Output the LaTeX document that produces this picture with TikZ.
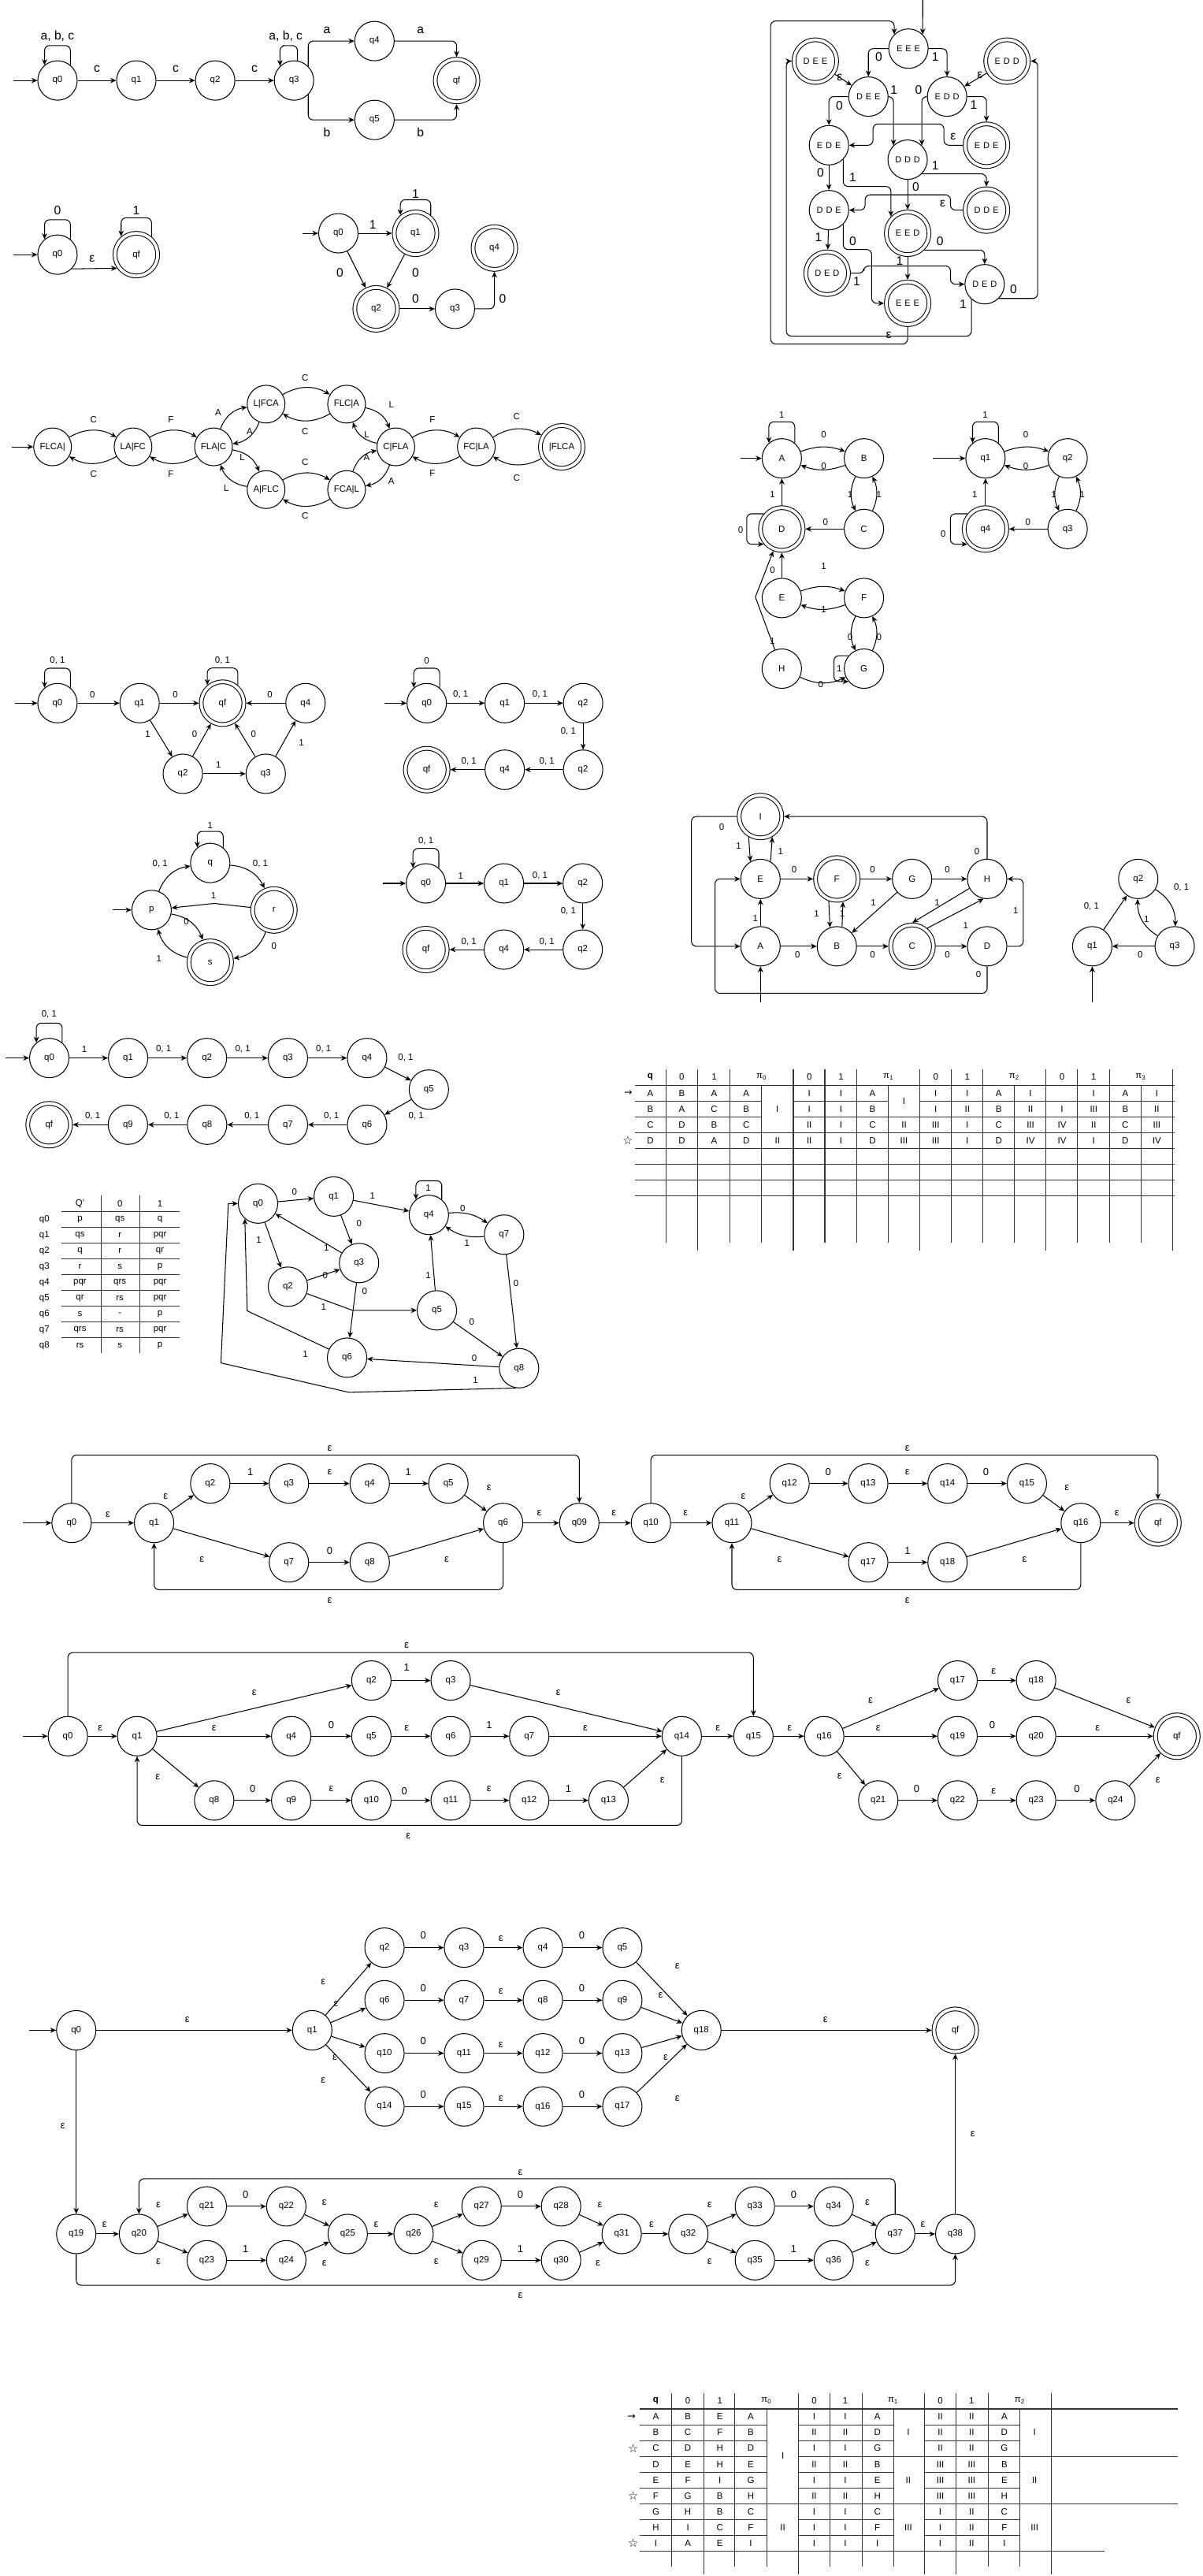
\documentclass[tikz,border=0pt]{standalone}
\usepackage{fontspec}
\setmainfont{Liberation Sans}
\newfontfamily\symf{DejaVu Sans}
\usetikzlibrary{arrows.meta,calc}
\tikzset{
 stt/.style={circle,draw,line width=0.5pt,minimum size=24pt,inner sep=0pt,font=\fontsize{5.5}{6}\selectfont},
 sts/.style={stt,minimum size=23pt},
 acs/.style={stt,double,double distance=1.8pt,minimum size=26pt,outer sep=1.4pt},
 spc/.style={font=\fontsize{5.3}{6}\selectfont\addfontfeature{LetterSpace=35}},
 arr/.style={line width=0.5pt,-{Stealth[length=3.6pt,width=3.2pt]}},
 lbl/.style={inner sep=0pt,font=\fontsize{7.5}{8}\selectfont},
 lbs/.style={inner sep=0pt,font=\fontsize{5.5}{6}\selectfont},
 lbm/.style={inner sep=0pt,font=\fontsize{6.2}{7}\selectfont},
 tln/.style={line width=0.5pt,draw=black!80},
 rcn/.style={rounded corners=3pt},
}
\newcommand\loopU[2]{\draw[arr,rcn] (#1.50) |- ($(#1.north)+(0,-#2)$) -| (#1.130);}
\newcommand\loopL[2]{\draw[arr,rcn] (#1.140) -| ($(#1.west)+(-#2,0)$) |- (#1.220);}
\newcommand\btrow[3]{\foreach \tx [count=\i] in {#3} {\pgfmathsetmacro\xx{{399.3,418.8,438.3,457.1,495.7,514.7,534.2,572.5,591.6,611.5}[\i-1]}\node[lbs] (#1\i) at (\xx,#2) {\tx};}}
\begin{document}
\begin{tikzpicture}[x=1pt,y=-1pt]
\fill[white] (0,0) rectangle (732,1568);
\useasboundingbox (0,0) rectangle (732,1568);
% ================= D1
\node[stt] (d1q0) at (35,49) {q0};
\node[stt] (d1q1) at (83,49) {q1};
\node[stt] (d1q2) at (131,49) {q2};
\node[stt] (d1q3) at (179,49) {q3};
\node[stt] (d1q4) at (228,25) {q4};
\node[stt] (d1q5) at (228,73) {q5};
\node[acs] (d1qf) at (278,49) {qf};
\coordinate (d1in) at (8,49);
\draw[arr] (d1in) -- (d1q0);
\loopU{d1q0}{9}
\draw[arr] (d1q0) -- (d1q1);
\draw[arr] (d1q1) -- (d1q2);
\draw[arr] (d1q2) -- (d1q3);
\draw[arr,rcn] (d1q3.80) |- ($(d1q3.north)+(-4,-9)$) -| (d1q3.134);
\draw[arr,rcn] (d1q3.45) |- (d1q4.west);
\draw[arr,rcn] (d1q4.east) -| (d1qf.north);
\draw[arr,rcn] (d1q3.-45) |- (d1q5.west);
\draw[arr,rcn] (d1q5.east) -| (d1qf.south);
\node[lbl] (d1l1) at (35,22) {a, b, c};
\node[lbl] (d1l2) at (59,42) {c};
\node[lbl] (d1l3) at (107,42) {c};
\node[lbl] (d1l4) at (155,42) {c};
\node[lbl] (d1l5) at (174,22) {a, b, c};
\node[lbl] (d1l6) at (199,18.4) {a};
\node[lbl] (d1l7) at (256,18.4) {a};
\node[lbl] (d1l8) at (199,80.7) {b};
\node[lbl] (d1l9) at (256,80.7) {b};
% ================= D2
\node[stt] (d2q0) at (35,155) {q0};
\node[acs] (d2qf) at (83,155) {qf};
\coordinate (d2in) at (8,155);
\draw[arr] (d2in) -- (d2q0);
\loopU{d2q0}{9}
\loopU{d2qf}{8}
\draw[arr] (d2q0.-45) -- (d2qf.215);
\node[lbl] (d2l1) at (35,128) {0};
\node[lbl] (d2l2) at (83,128) {1};
\node[lbl] (d2l3) at (56,157.5) {ε};
% ================= D3
\node[stt] (d3q0) at (206,142) {q0};
\node[acs] (d3q1) at (253,142) {q1};
\node[acs] (d3q2) at (229,188) {q2};
\node[stt] (d3q3) at (277,188) {q3};
\node[acs] (d3q4) at (301,151) {q4};
\coordinate (d3in) at (184,142);
\draw[arr] (d3in) -- (d3q0);
\draw[arr] (d3q0) -- (d3q1);
\loopU{d3q1}{6}
\draw[arr] (d3q0) -- (d3q2);
\draw[arr] (d3q1) -- (d3q2);
\draw[arr] (d3q2) -- (d3q3);
\draw[arr,rcn] (d3q3.east) -| (d3q4.south);
\node[lbl] (d3l1) at (227,137) {1};
\node[lbl] (d3l2) at (253,118) {1};
\node[lbl] (d3l3) at (207,166) {0};
\node[lbl] (d3l4) at (253,166) {0};
\node[lbl] (d3l5) at (253,182) {0};
\node[lbl] (d3l6) at (306,182) {0};
% ================= D4
\node[stt,spc] (d4a) at (553.1,29.6) {EEE};
\node[acs,spc] (d4b) at (496.4,37.2) {DEE};
\node[acs,spc] (d4c) at (613.1,37.2) {EDD};
\node[stt,spc] (d4d) at (528.7,58.8) {DEE};
\node[stt,spc] (d4e) at (576.6,58.8) {EDD};
\node[stt,spc] (d4f) at (504.7,88.4) {EDE};
\node[stt,spc] (d4g) at (552.6,97.2) {DDD};
\node[acs,spc] (d4h) at (600.6,88.4) {EDE};
\node[stt,spc] (d4i) at (504.7,127.9) {DDE};
\node[acs,spc] (d4j) at (552.6,142) {EED};
\node[acs,spc] (d4k) at (600.6,127.9) {DDE};
\node[acs,spc] (d4l) at (503.6,166.3) {DED};
\node[acs,spc] (d4m) at (552.6,184.6) {EEE};
\node[stt,spc] (d4n) at (599.5,173) {DED};
\coordinate (d4in) at (561.8,0);
\draw[arr] (d4in) -- (d4a.north east);
\draw[arr,rcn] (d4a.west) -| (d4d.north);
\draw[arr,rcn] (d4a.east) -| (d4e.north);
\draw[arr] (d4b) -- (d4d);
\draw[arr] (d4c) -- (d4e);
\draw[arr,rcn] (d4d.west) -| (d4f.north);
\draw[arr,rcn] (d4d.east) -| (d4g.north west);
\draw[arr,rcn] (d4e.west) -| (d4g.north east);
\draw[arr,rcn] (d4e.east) -| (d4h.north);
\draw[arr,rcn] (d4h.west) -- (574.7,88.4) |- (531.5,75.5) |- (d4f.east);
\draw[arr,rcn] (d4g.south east) -| (d4k.north);
\draw[arr] (d4g) -- (d4j);
\draw[arr,rcn] (d4f.south east) |- (542.4,113.5) -- (d4j.north west);
\draw[arr,rcn] (d4k.west) -- (578.7,127.9) |- (526.7,118.6) |- (d4i.east);
\draw[arr] (d4f) -- (d4i);
\draw[arr] (d4i) -- (d4l);
\draw[arr,rcn] (d4i.south east) |- (530.7,151.9) |- (d4m.west);
\draw[arr,rcn] (d4j.south east) -| (d4n.north);
\draw[arr] (d4j) -- (d4m);
\draw[arr,rcn] (d4l.east) -- (525.9,166.3) |- (578.7,161.9) |- (d4n.west);
\draw[arr,rcn] (d4n.south east) -| (631.8,37.2) -- (d4c.east);
\draw[arr,rcn] (d4n.229) |- (478.8,204.6) |- (d4b.west);
\draw[arr,rcn] (d4m.south) |- (469.2,209.4) |- (544.4,12.8) -- (d4a.north west);
\foreach \x/\y/\tx [count=\i] in {535/34.4/0,569.4/34.4/1,511.2/47.2/ε,596.6/45.9/ε,511.1/64.3/0,544.3/54.7/1,559.2/54.7/0,592.8/63.9/1,580.3/83.1/ε,569.4/101/1,557.6/113.8/0,519.2/107.9/1,573.9/123.9/ε,499.6/105.2/0,498.4/144.4/1,519.2/146.8/0,572.3/146.8/0,547.8/158.8/1,521.6/171.1/1,617.1/175.9/0,586.4/185.4/1,541.1/203.8/ε}
  \node[lbl] (d4l\i) at (\x,\y) {\tx};
% ================= Row 3 (FLCA)
\node[sts] (r1) at (32,272) {FLCA|};
\node[sts] (r2) at (81,272) {LA|FC};
\node[sts] (r3) at (130,272) {FLA|C};
\node[sts] (r4) at (162,246) {L|FCA};
\node[sts] (r5) at (211,246) {FLC|A};
\node[sts] (r6) at (241,272) {C|FLA};
\node[sts] (r7) at (290,272) {FC|LA};
\node[acs] (r8) at (342,272) {|FLCA};
\node[sts] (r9) at (162,298) {A|FLC};
\node[sts] (r10) at (211,298) {FCA|L};
\coordinate (r0in) at (7,272);
\draw[arr] (r0in) -- (r1);
\foreach \a/\b in {r1/r2,r2/r1,r2/r3,r3/r2,r3/r4,r4/r3,r4/r5,r5/r4,r5/r6,r6/r5,r3/r9,r9/r3,r9/r10,r10/r9,r10/r6,r6/r10,r6/r7,r7/r6,r7/r8,r8/r7}
  \draw[arr] (\a) to[bend left=30] (\b);
\foreach \x/\y/\tx [count=\i] in {57/255.6/C,57/288.4/C,104/255.6/F,104/288.4/F,132.8/251/A,152/262.6/A,185.8/230/C,185.8/262.6/C,238.3/246.3/L,223.3/264.7/L,147.5/278.6/L,137.8/297/L,185.8/281.4/C,185.8/313.8/C,223.3/278.6/A,238.3/292.7/A,263.3/255.6/F,263.3/288/F,314.5/253.3/C,314.5/290.7/C}
  \node[lbs] (r3l\i) at (\x,\y) {\tx};
% ================= A-H graph
\node[stt] (gA) at (476,279) {A};
\node[stt] (gB) at (526,279) {B};
\node[acs] (gD) at (476,322) {D};
\node[stt] (gC) at (526,322) {C};
\node[stt] (gE) at (476,364) {E};
\node[stt] (gF) at (526,364) {F};
\node[stt] (gH) at (476,407) {H};
\node[stt] (gG) at (526,407) {G};
\coordinate (gin) at (451,279);
\draw[arr] (gin) -- (gA);
\loopU{gA}{10}
\draw[arr] (gA) to[bend left=20] (gB);
\draw[arr] (gB) to[bend left=20] (gA);
\draw[arr] (gB) to[bend right=25] (gC);
\draw[arr] (gC) to[bend right=25] (gB);
\draw[arr] (gC) -- (gD);
\draw[arr] (gD) -- (gA);
\loopL{gD}{7}
\draw[arr] (gE) -- (gD);
\draw[arr] (gE) to[bend left=20] (gF);
\draw[arr] (gF) to[bend left=20] (gE);
\draw[arr] (gF) to[bend right=25] (gG);
\draw[arr] (gG) to[bend right=25] (gF);
\loopL{gG}{6}
\draw[arr] (gH) to[bend right=25] (gG);
\draw[arr] (gH) -- (459.9,363.4) -- (gD);
\foreach \x/\y/\tx [count=\i] in {476/252.7/1,501.5/264.5/0,501.5/283.8/0,517.6/300.8/1,535.2/300.8/1,502.6/317.8/0,470.3/300.8/1,450.9/322.6/0,470.3/346.9/0,501.5/344.8/1,501.5/371.1/1,517.6/387.9/0,535.2/387.9/0,511/407/1,499.7/416.7/0,470.3/390/1}
  \node[lbs] (gl\i) at (\x,\y) {\tx};
% q1-q4 graph
\node[stt] (h1) at (600,279) {q1};
\node[stt] (h2) at (650,279) {q2};
\node[acs] (h4) at (600,322) {q4};
\node[stt] (h3) at (650,322) {q3};
\coordinate (hin) at (568,279);
\draw[arr] (hin) -- (h1);
\loopU{h1}{10}
\draw[arr] (h1) to[bend left=20] (h2);
\draw[arr] (h2) to[bend left=20] (h1);
\draw[arr] (h2) to[bend right=25] (h3);
\draw[arr] (h3) to[bend right=25] (h2);
\draw[arr] (h3) -- (h4);
\draw[arr] (h4) -- (h1);
\loopL{h4}{7}
\foreach \x/\y/\tx [count=\i] in {599.8/252.7/1,624.5/264.5/0,624.5/283.8/0,641.6/300.8/1,659/300.8/1,625.8/317.8/0,593.5/300.8/1,574.3/325/0}
  \node[lbs] (hl\i) at (\x,\y) {\tx};
% ================= D5a
\node[stt] (pa0) at (35,428) {q0};
\node[stt] (pa1) at (85,428) {q1};
\node[acs] (paf) at (135.5,428) {qf};
\node[stt] (pa4) at (186,428) {q4};
\node[stt] (pa2) at (111.3,471) {q2};
\node[stt] (pa3) at (161.8,471) {q3};
\coordinate (pain) at (9,428);
\draw[arr] (pain) -- (pa0);
\loopU{pa0}{9}
\loopU{paf}{7}
\draw[arr] (pa0) -- (pa1);
\draw[arr] (pa1) -- (paf);
\draw[arr] (pa4) -- (paf);
\draw[arr] (pa1) -- (pa2);
\draw[arr] (pa2) -- (paf);
\draw[arr] (pa3) -- (paf);
\draw[arr] (pa3) -- (pa4);
\draw[arr] (pa2) -- (pa3);
\node[lbs] (pal1) at (35,402) {0, 1};
\node[lbs] (pal2) at (135.5,402) {0, 1};
\foreach \x/\y/\tx [count=\i] in {56.3/422.8/0,106.8/422.8/0,164.3/422.8/0,90/447/1,118.5/447/0,154.3/447/0,183.5/452.2/1,133/465.7/1}
  \node[lbs] (pam\i) at (\x,\y) {\tx};
% ================= D5b
\node[stt] (pb0) at (259.8,428) {q0};
\node[stt] (pb1) at (307.3,428) {q1};
\node[stt] (pb2) at (355,428) {q2};
\node[stt] (pb5) at (355,468.5) {q2};
\node[stt] (pb4) at (307.3,468.5) {q4};
\node[acs] (pbf) at (259.8,468.5) {qf};
\coordinate (pbin) at (234.3,428);
\draw[arr] (pbin) -- (pb0);
\loopU{pb0}{9}
\draw[arr] (pb0) -- (pb1);
\draw[arr] (pb1) -- (pb2);
\draw[arr] (pb2) -- (pb5);
\draw[arr] (pb5) -- (pb4);
\draw[arr] (pb4) -- (pbf);
\node[lbs] (pbl1) at (259.8,402) {0};
\node[lbs] (pbl2) at (280.5,422.8) {0, 1};
\node[lbs] (pbl3) at (328.8,422.8) {0, 1};
\node[lbs] (pbl4) at (346,445) {0, 1};
\node[lbs] (pbl5) at (333,463.3) {0, 1};
\node[lbs] (pbl6) at (285.5,463.3) {0, 1};
% ================= D5c
\node[stt] (pcq) at (128,525.3) {q};
\node[stt] (pcp) at (92.3,553.9) {p};
\node[acs] (pcr) at (166.8,553.9) {r};
\node[acs] (pcs) at (128,585.7) {s};
\coordinate (pcin) at (68.5,553.9);
\draw[arr] (pcin) -- (pcp);
\loopU{pcq}{7}
\draw[arr] (pcp) to[bend left=30] (pcq);
\draw[arr] (pcq) to[bend left=30] (pcr);
\draw[arr] (pcr) -- (130.5,549.9) -- (pcp);
\draw[arr] (pcp) to[bend left=30] (pcs);
\draw[arr] (pcr) to[bend left=30] (pcs);
\draw[arr] (pcs) to[bend left=30] (pcp);
\node[lbs] (pcl1) at (128,502.3) {1};
\node[lbs] (pcl2) at (97.5,525.6) {0, 1};
\node[lbs] (pcl3) at (158.5,525.6) {0, 1};
\node[lbs] (pcl4) at (130,545.2) {1};
\node[lbs] (pcl5) at (113.5,561) {0};
\node[lbs] (pcl6) at (166.8,575.9) {0};
\node[lbs] (pcl7) at (96.8,583.3) {1};
% ================= D5d
\node[stt] (pd0) at (259.3,537.7) {q0};
\node[stt] (pd1) at (306.8,537.7) {q1};
\node[stt] (pd2) at (354.8,537.7) {q2};
\node[stt] (pd5) at (354.8,578) {q2};
\node[stt] (pd4) at (306.8,578) {q4};
\node[acs] (pdf) at (259.3,578) {qf};
\coordinate (pdin) at (233,537.7);
\draw[arr] (pdin) -- (pd0);
\loopU{pd0}{9}
\draw[arr] (pd0) -- (pd1);
\draw[arr] (pd1) -- (pd2);
\draw[arr] (pd2) -- (pd5);
\draw[arr] (pd5) -- (pd4);
\draw[arr] (pd4) -- (pdf);
\node[lbs] (pdl1) at (259.3,511.8) {0, 1};
\node[lbs] (pdl2) at (280.5,533) {1};
\node[lbs] (pdl3) at (328.8,533) {0, 1};
\node[lbs] (pdl4) at (346,554.7) {0, 1};
\node[lbs] (pdl5) at (333,573.5) {0, 1};
\node[lbs] (pdl6) at (285.5,573.5) {0, 1};
% ================= I-E graph
\node[acs] (eI) at (463,497) {I};
\node[stt] (eE) at (463,535) {E};
\node[acs] (eF) at (509.5,535) {F};
\node[stt] (eG) at (555.3,535) {G};
\node[stt] (eH) at (601,535) {H};
\node[stt] (eA) at (463,576) {A};
\node[stt] (eB) at (509.5,576) {B};
\node[acs] (eC) at (555.3,576) {C};
\node[stt] (eD) at (601,576) {D};
\coordinate (ein) at (463,610);
\draw[arr] (ein) -- (eA);
\draw[arr] (eI.240) -- (eE.120);
\draw[arr] (eE.60) -- (eI.300);
\draw[arr,rcn] (eI.west) -- (421,497) |- (eA.west);
\draw[arr] (eE) -- (eF);
\draw[arr] (eF) -- (eG);
\draw[arr] (eG) -- (eH);
\draw[arr,rcn] (eH.north) |- (eI.east);
\draw[arr] (eF.250) -- (eB.110);
\draw[arr] (eB.75) -- (eF.285);
\draw[arr] (eG) -- (eB);
\draw[arr] (eH.208) -- (eC.89);
\draw[arr] (eC.50) -- (eH.260);
\draw[arr] (eA) -- (eE);
\draw[arr] (eA) -- (eB);
\draw[arr] (eB) -- (eC);
\draw[arr] (eC) -- (eD);
\draw[arr,rcn] (eD.east) -- (623,576) |- (eH.east);
\draw[arr,rcn] (eD.south) |- (435.3,604.6) |- (eE.west);
\foreach \x/\y/\tx [count=\i] in {449.7/515/1,475.3/518.2/1,439.4/503.4/0,483.5/529.1/0,531.3/529.1/0,576.8/529.1/0,594.8/518.2/0,497.2/556.4/1,512.8/556.4/1,531.7/549.7/1,570.6/549.7/1,588/563.6/1,459.9/559.3/1,485.6/581.3/0,531.3/581.3/0,576.8/581.3/0,618.4/554.3/1,595.8/593/0}
  \node[lbs] (el\i) at (\x,\y) {\tx};
% q1 q2 q3 triangle
\node[stt] (f2) at (693,535) {q2};
\node[stt] (f1) at (665,576) {q1};
\node[stt] (f3) at (715.2,576) {q3};
\coordinate (fin) at (665,610);
\draw[arr] (fin) -- (f1);
\draw[arr] (f1) -- (f2);
\draw[arr] (f2) to[bend left=30] (f3);
\draw[arr] (f3) to[bend left=30] (f2);
\draw[arr] (f3) -- (f1);
\node[lbs] (fl1) at (664.5,551.5) {0, 1};
\node[lbs] (fl2) at (719.3,540) {0, 1};
\node[lbs] (fl3) at (698.1,559.6) {1};
\node[lbs] (fl4) at (694.2,581.3) {0};
% ================= chain
\node[stt] (k0) at (30,644) {q0};
\node[stt] (k1) at (78,644) {q1};
\node[stt] (k2) at (126,644) {q2};
\node[stt] (k3) at (175.3,644) {q3};
\node[stt] (k4) at (223.5,644) {q4};
\node[stt] (k5) at (261.1,663.2) {q5};
\node[stt] (k6) at (223.5,684.6) {q6};
\node[stt] (k7) at (175.3,684.6) {q7};
\node[stt] (k8) at (126.1,684.6) {q8};
\node[stt] (k9) at (77.9,684.6) {q9};
\node[acs] (kf) at (29.9,684.6) {qf};
\coordinate (kin) at (3.3,644);
\draw[arr] (kin) -- (k0);
\loopU{k0}{9}
\foreach \a/\b in {k0/k1,k1/k2,k2/k3,k3/k4,k4/k5,k5/k6,k6/k7,k7/k8,k8/k9,k9/kf}
  \draw[arr] (\a) -- (\b);
\node[lbs] (kl0) at (29.9,617.4) {0, 1};
\node[lbs] (kl1) at (51.3,638.7) {1};
\node[lbs] (kl2) at (99.6,638.7) {0, 1};
\node[lbs] (kl3) at (147.8,638.7) {0, 1};
\node[lbs] (kl4) at (197,638.7) {0, 1};
\node[lbs] (kl5) at (247,644) {0, 1};
\node[lbs] (kl6) at (253.4,679.5) {0, 1};
\node[lbs] (kl7) at (201.8,679.5) {0, 1};
\node[lbs] (kl8) at (153.4,679.5) {0, 1};
\node[lbs] (kl9) at (104.5,679.5) {0, 1};
\node[lbs] (kl10) at (56.4,679.5) {0, 1};
% ================= Table 1
\foreach \x in {405.6,444.5,502.2,521.5,579.2,598.4,656.1,675.4} \draw[tln] (\x,651) -- (\x,756.5);
\foreach \x in {424.8,483,560,636.9,713.8} \draw[tln] (\x,651) -- (\x,761.3);
\foreach \x in {463.8,541,617.6,694.6} \draw[tln] (\x,660.6) -- (\x,756.5);
\draw[tln] (386.8,660.6) -- (715,660.6);
\draw[tln] (386.8,670.2) -- (463.8,670.2) (483,670.2) -- (541,670.2) (560,670.2) -- (715,670.2);
\draw[tln] (386.8,679.8) -- (463.8,679.8) (483,679.8) -- (715,679.8);
\foreach \y in {689.4,699,708.6,718.2,727.8} \draw[tln] (386.8,\y) -- (715,\y);
\foreach \x/\tx [count=\i] in {395.9/\textbf{q},415.1/0,434.8/1,463.8/π\textsubscript{0},492.7/0,512/1,541/π\textsubscript{1},569.7/0,588.9/1,617.6/π\textsubscript{2},646.6/0,665.9/1,694.6/π\textsubscript{3}}
  \node[lbs] (tah\i) at (\x,655.5) {\tx};
\foreach \x/\tx [count=\i] in {395.9/A,415.1/B,434.8/A,454.3/A,492.7/I,512/I,531.2/A,569.7/I,588.9/I,608.1/A,627.4/I,665.9/I,685.1/A,704.3/I}
  \node[lbs] (taa\i) at (\x,665.4) {\tx};
\foreach \x/\tx [count=\i] in {395.9/B,415.1/A,434.8/C,454.3/B,492.7/I,512/I,531.2/B,569.7/I,588.9/II,608.1/B,627.4/II,646.6/I,665.9/III,685.1/B,704.3/II}
  \node[lbs] (tab\i) at (\x,675) {\tx};
\foreach \x/\tx [count=\i] in {395.9/C,415.1/D,434.8/B,454.3/C,492.7/II,512/I,531.2/C,550.4/II,569.7/III,588.9/I,608.1/C,627.4/III,646.6/IV,665.9/II,685.1/C,704.3/III}
  \node[lbs] (tac\i) at (\x,684.6) {\tx};
\foreach \x/\tx [count=\i] in {395.9/D,415.1/D,434.8/A,454.3/D,473.3/II,492.7/II,512/I,531.2/D,550.4/III,569.7/III,588.9/I,608.1/D,627.4/IV,646.6/IV,665.9/I,685.1/D,704.3/IV}
  \node[lbs] (tad\i) at (\x,694.2) {\tx};
\node[lbs] (tam1) at (473.3,675) {I};
\node[lbs] (tam2) at (550.4,670.2) {I};
\node[inner sep=0pt,font=\fontsize{6}{7}\selectfont\symf] (taar) at (382.5,665.4) {→};
\node[inner sep=0pt,font=\fontsize{7}{8}\selectfont\symf] (tast) at (382.3,694.2) {☆};
% ================= Table 2
\draw[tln] (61.5,727.5) -- (61.5,823.5);
\draw[tln] (85.2,727.5) -- (85.2,823.5);
\foreach \y in {737.4,747,756.6,766.2,775.8,785.4,795,804.6,814.2} \draw[tln] (37.2,\y) -- (109.5,\y);
\node[lbs] (tqh1) at (48.7,732.6) {Q'};
\node[lbs] (tqh2) at (73,732.6) {0};
\node[lbs] (tqh3) at (97.4,732.6) {1};
\foreach \r/\a/\b/\c [count=\i] in {q0/p/qs/q,q1/qs/r/pqr,q2/q/r/qr,q3/r/s/p,q4/pqr/qrs/pqr,q5/qr/rs/pqr,q6/s/-/p,q7/qrs/rs/pqr,q8/rs/s/p}
 {\pgfmathsetmacro\yy{732.6+9.6*\i}
  \node[lbs] (tqr\i) at (27,\yy) {\r};
  \node[lbs] (tqa\i) at (48.7,\yy) {\a};
  \node[lbs] (tqb\i) at (73,\yy) {\b};
  \node[lbs] (tqc\i) at (97.4,\yy) {\c};}
% ================= m graph
\node[stt] (m0) at (157.1,732.6) {q0};
\node[stt] (m1) at (203.2,728.3) {q1};
\node[stt] (m4) at (261.1,739.5) {q4};
\node[stt] (m7) at (306.9,751.5) {q7};
\node[stt] (m3) at (218.6,768.8) {q3};
\node[stt] (m2) at (175.3,783.2) {q2};
\node[stt] (m5) at (266,797.6) {q5};
\node[stt] (m6) at (211.3,826.4) {q6};
\node[stt] (m8) at (316,832.8) {q8};
\draw[arr] (m0) -- (m1);
\draw[arr] (m1) -- (m4);
\loopU{m4}{8.5}
\draw[arr] (m4) to[bend left=20] (m7);
\draw[arr] (m7) to[bend left=20] (m4);
\draw[arr] (m1) -- (m3);
\draw[arr] (m3) -- (m0);
\draw[arr] (m0) -- (m2);
\draw[arr] (m2) -- (m3);
\draw[arr] (m3) -- (m6);
\draw[arr] (m2) -- (214.7,797.6) -- (m5.west);
\draw[arr] (m5) -- (m4);
\draw[arr] (m5) -- (m8);
\draw[arr] (m7) -- (m8);
\draw[arr] (m8) -- (m6);
\draw[arr] (m6) -- (150.5,797.9) -- (m0.229);
\draw[arr] (m8.261) -- (212.4,847.5) -- (134.5,829.6) -- (139,732.6) -- (m0.west);
\foreach \x/\y/\tx [count=\i] in {179.3/725.6/0,226.8/727.8/1,260.7/723/1,281.7/735.5/0,284.4/756.6/1,218.6/744.8/0,198.7/759.5/1,157.6/754.7/1,198/776.3/0,222/785.9/0,197/795.5/1,260.7/776.3/1,287.2/804.6/0,314.2/781.1/0,288.8/826.7/0,185.9/824.3/1,289.5/840.3/1}
  \node[lbs] (ml\i) at (\x,\y) {\tx};
% ================= NFA A
\foreach \n/\x/\y in {0/43.6/927,1/93.8/927,2/128/903,3/175.9/903,4/225.1/903,5/273/903,6/306.3/927,7/175.9/951,8/225.1/951,09/352.7/927,10/396.3/927,11/445.6/927,12/480.7/903,13/528.6/903,14/576.9/903,15/625.2/903,16/658/927,17/528.6/951,18/576.9/951}
  \node[stt] (na\n) at (\x,\y) {q\n};
\node[acs] (naf) at (705,927) {qf};
\coordinate (nain) at (14,927);
\draw[arr] (nain) -- (na0);
\foreach \a/\b in {0/1,1/2,2/3,3/4,4/5,5/6,1/7,7/8,8/6,6/09,09/10,10/11,11/12,12/13,13/14,14/15,15/16,11/17,17/18,18/16,16/f}
  \draw[arr] (na\a) -- (na\b);
\draw[arr,rcn] (na0.north) |- (200,885.7) -| (na09.north);
\draw[arr,rcn] (na6.south) |- (200,967.6) -| (na1.south);
\draw[arr,rcn] (na10.north) |- (550,885.7) -| (naf.north);
\draw[arr,rcn] (na16.south) |- (550,967.6) -| (na11.south);
\foreach \x/\y/\tx [count=\i] in {65.7/921.7/ε,200.7/881.7/ε,100.8/911/ε,152.4/896.1/1,200.7/896.1/ε,248.6/896.1/1,297.8/905.7/ε,122.9/949.3/ε,200.7/944/0,272/949.3/ε,200.7/974/ε,328.3/921.2/ε,373.8/921.2/ε,417.4/921.2/ε,552.5/881.7/ε,452.6/911/ε,504.2/896.1/0,552.5/896.1/ε,600.3/896.1/0,649.6/905.7/ε,474.6/949.3/ε,552.5/944/1,623.8/949.3/ε,552.5/974/ε,680/921.2/ε}
  \node[lbm] (nal\i) at (\x,\y) {\tx};
% ================= NFA B
\foreach \n/\x/\y in {0/41.3/1056.8,1/83.5/1056.8,2/226.1/1022.9,3/274.4/1022.9,4/177.3/1056.8,5/226.1/1056.8,6/274.4/1056.8,7/322.2/1056.8,8/130.4/1095.9,9/177.3/1095.9,10/226.1/1095.9,11/274.4/1095.9,12/322.2/1095.9,13/370.5/1095.9,14/415.1/1056.8,15/458.7/1056.8,16/501.8/1056.8,17/583/1022.9,18/630.8/1022.9,19/583/1056.8,20/630.8/1056.8,21/534.7/1095.9,22/583/1095.9,23/630.8/1095.9,24/679.1/1095.9}
  \node[stt] (nb\n) at (\x,\y) {q\n};
\node[acs] (nbf) at (716.5,1056.8) {qf};
\coordinate (nbin) at (14,1056.8);
\draw[arr] (nbin) -- (nb0);
\foreach \a/\b in {0/1,1/2,2/3,3/14,1/4,4/5,5/6,6/7,7/14,1/8,8/9,9/10,10/11,11/12,12/13,13/14,14/15,15/16,16/17,17/18,18/f,16/19,19/20,20/f,16/21,21/22,22/23,23/24,24/f}
  \draw[arr] (nb\a) -- (nb\b);
\draw[arr,rcn] (nb0.north) |- (250,1005.9) -| (nb15.north);
\draw[arr,rcn] (nb14.south) |- (250,1111.1) -| (nb1.south);
\foreach \x/\y/\tx [count=\i] in {61/1051.7/ε,247.6/1001.6/ε,154.8/1030.4/ε,130.4/1051.7/ε,201.7/1050/0,247.6/1051.7/ε,297.8/1050/1,356.4/1051.7/ε,247.6/1015.2/1,340/1030.4/ε,96.1/1081.6/ε,153.8/1088.8/0,201.7/1088.8/ε,246.2/1090.4/0,297.8/1088.8/ε,346.1/1088.8/1,403.3/1083.6/ε,248.6/1117.5/ε,437.1/1051.7/ε,480.7/1051.7/ε,530/1035.2/ε,605/1017.6/ε,687.1/1035.2/ε,534.7/1051.7/ε,604.1/1050/0,668.3/1051.7/ε,511.2/1081.1/ε,558.1/1088.8/0,605/1090.4/ε,655.7/1088.8/0,705/1083.6/ε}
  \node[lbm] (nbl\i) at (\x,\y) {\tx};
% ================= NFA C
\foreach \n/\x/\y in {0/46.4/1235.8,1/190.1/1235.8,2/234.1/1185.5,3/282.5/1185.5,4/330.5/1185.5,5/378.9/1185.5,6/234.1/1217.5,7/282.5/1217.5,8/330.5/1217.5,9/378.9/1217.5,10/234.1/1249.8,11/282.5/1249.8,12/330.5/1249.8,13/378.9/1249.8,14/234.1/1282.2,15/282.5/1282.2,16/330.5/1282.2,17/378.9/1282.2,18/427/1235.8,19/46.4/1359.8,20/84.6/1359.8,21/125.9/1343,22/174.3/1343,23/125.9/1375.8,24/174.3/1375.8,25/211.7/1359.8,26/251.8/1359.8,27/293.2/1343,28/341.6/1343,29/293.2/1375.8,30/341.6/1375.8,31/378.5/1359.8,32/419.1/1359.8,33/459.6/1343,34/507.6/1343,35/459.6/1375.8,36/507.6/1375.8,37/545/1359.8,38/581.6/1359.8}
  \node[stt] (nc\n) at (\x,\y) {q\n};
\node[acs] (ncf) at (581.6,1235.8) {qf};
\coordinate (ncin) at (17.7,1235.8);
\draw[arr] (ncin) -- (nc0);
\foreach \a/\b in {0/1,0/19,1/2,1/6,1/10,1/14,2/3,3/4,4/5,6/7,7/8,8/9,10/11,11/12,12/13,14/15,15/16,16/17,5/18,9/18,13/18,17/18,18/f,38/f,19/20,20/21,20/23,21/22,23/24,22/25,24/25,25/26,26/27,26/29,27/28,29/30,28/31,30/31,31/32,32/33,32/35,33/34,35/36,34/37,36/37,37/38}
  \draw[arr] (nc\a) -- (nc\b);
\draw[arr,rcn] (nc37.north) |- (300,1326.2) -| (nc20.north);
\draw[arr,rcn] (nc19.south) |- (300,1391) -| (nc38.south);
\foreach \x/\y/\tx [count=\i] in {114.1/1229.4/ε,38.2/1294.2/ε,196.8/1206.3/ε,204.6/1219.9/ε,203.8/1252.2/ε,196.8/1266.2/ε,257.7/1178/0,305/1179.9/ε,354.2/1178/0,257.7/1210.3/0,305/1212.2/ε,354.2/1210.3/0,257.7/1242.2/0,305/1244.6/ε,354.2/1242.2/0,257.7/1275/0,305/1277.4/ε,354.2/1275/0,412.4/1196.7/ε,402.2/1214.7/ε,405.3/1252.6/ε,412.4/1277.4/ε,502.5/1229.4/ε,592.2/1299/ε,63.7/1354.2/ε,96.4/1342.2/ε,96.4/1376.6/ε,149.5/1335.8/0,149.5/1368.9/1,197.5/1340.6/ε,197.5/1377.8/ε,229/1354.2/ε,265.6/1342.2/ε,265.6/1376.6/ε,316.8/1335.8/0,316.8/1368.9/1,365.2/1342.2/ε,364/1377.8/ε,396.7/1354.2/ε,432.1/1342.2/ε,432.1/1376.6/ε,483.2/1335.8/0,483.2/1368.9/1,528.1/1340.6/ε,528.1/1377.8/ε,561.9/1354.2/ε,316.8/1322.2/ε,316.8/1397.4/ε}
  \node[lbm] (ncl\i) at (\x,\y) {\tx};
% ================= Bottom table
\foreach \x in {409,447.5,505.5,524.8,601.7} \draw[tln] (\x,1456.7) -- (\x,1562);
\foreach \x in {428.5,486,562.7,582.2,640.2} \draw[tln] (\x,1456.7) -- (\x,1566.8);
\foreach \x in {467,544.3,620.7} \draw[tln] (\x,1466.3) -- (\x,1562);
\draw[tln] (389.7,1466.3) -- (717.1,1466.3);
\foreach \y in {1475.9,1485.5,1504.7,1514.3,1533.5,1543.1}
  \draw[tln] (389.7,\y) -- (467,\y) (486,\y) -- (544.3,\y) (562.7,\y) -- (620.7,\y);
\draw[tln] (389.7,1495.1) -- (467,1495.1) (486,1495.1) -- (717.1,1495.1);
\draw[tln] (389.7,1523.9) -- (717.1,1523.9);
\draw[tln] (389.7,1552.7) -- (672.3,1552.7);
\foreach \x/\tx [count=\i] in {399.3/\textbf{q},418.8/0,438.3/1,466.8/π\textsubscript{0},495.7/0,514.7/1,543.8/π\textsubscript{1},572.5/0,591.6/1,621/π\textsubscript{2}}
  \node[lbs] (tbh\i) at (\x,1461.2) {\tx};
\btrow{tbA}{1471.1}{A,B,E,A,I,I,A,II,II,A}
\btrow{tbB}{1480.7}{B,C,F,B,II,II,D,II,II,D}
\btrow{tbC}{1490.3}{C,D,H,D,I,I,G,II,II,G}
\btrow{tbD}{1499.9}{D,E,H,E,II,II,B,III,III,B}
\btrow{tbE}{1509.5}{E,F,I,G,I,I,E,III,III,E}
\btrow{tbF}{1519.1}{F,G,B,H,II,II,H,III,III,H}
\btrow{tbG}{1528.7}{G,H,B,C,I,I,C,I,II,C}
\btrow{tbH}{1538.3}{H,I,C,F,I,I,F,I,II,F}
\btrow{tbI}{1547.9}{I,A,E,I,I,I,I,I,II,I}
\node[lbs] (tbm1) at (476.6,1495.1) {I};
\node[lbs] (tbm2) at (476.6,1538.3) {II};
\node[lbs] (tbm3) at (553,1480.7) {I};
\node[lbs] (tbm4) at (553,1509.5) {II};
\node[lbs] (tbm5) at (553,1538.3) {III};
\node[lbs] (tbm6) at (629.9,1480.7) {I};
\node[lbs] (tbm7) at (629.9,1509.5) {II};
\node[lbs] (tbm8) at (629.9,1538.3) {III};
\node[inner sep=0pt,font=\fontsize{6}{7}\selectfont\symf] (tbar) at (384.5,1471.1) {→};
\node[inner sep=0pt,font=\fontsize{7}{8}\selectfont\symf] (tbs1) at (385.5,1490.3) {☆};
\node[inner sep=0pt,font=\fontsize{7}{8}\selectfont\symf] (tbs2) at (385.5,1519.1) {☆};
\node[inner sep=0pt,font=\fontsize{7}{8}\selectfont\symf] (tbs3) at (385.5,1547.9) {☆};
\end{tikzpicture}
\end{document}
